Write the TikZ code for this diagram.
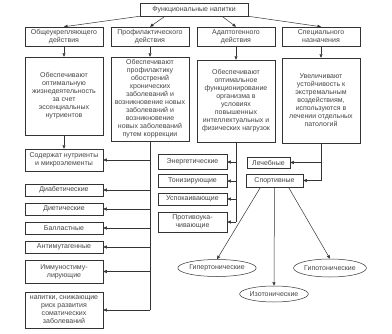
\documentclass[tikz,border=0pt]{standalone}
\usepackage{fontspec}
\setmainfont{Liberation Sans}
\usetikzlibrary{arrows.meta,shapes.geometric}
\definecolor{linegray}{HTML}{333333}
\definecolor{textgray}{HTML}{454545}
\tikzset{
  box/.style={draw=linegray, line width=0.5pt, align=center, fill=white, inner sep=0pt, text=textgray},
  wide/.style={box, minimum width=78pt},
  item/.style={box, minimum width=69pt},
  oval/.style={draw=linegray, line width=0.5pt, ellipse, inner sep=0pt, text=textgray},
  arrow/.style={-{Triangle[length=3.5pt, width=3pt]}, draw=linegray, line width=0.5pt},
  trunk/.style={draw=linegray, line width=0.5pt}
}

\begin{document}
\begin{tikzpicture}[x=1pt, y=-1pt, font=\fontsize{7}{8}\selectfont]
  \useasboundingbox[fill=white] (0,0) rectangle (392,333);

  \node[box, minimum width=108pt, minimum height=13pt] (drinks) at (194,9.5) {Функциональные напитки};

  \node[wide, minimum height=19pt] (general) at (64,36.5) {Общеукрепляющего\\действия};
  \node[wide, minimum height=19pt] (preventive) at (150,36.5) {Профилактического\\действия};
  \node[wide, minimum height=19pt] (adaptogen) at (236,36.5) {Адаптогенного\\действия};
  \node[wide, minimum height=19pt] (special) at (321,36.5) {Специального\\назначения};

  \node[wide, minimum height=78pt] (generaltext) at (64,96) {Обеспечивают\\оптимальную\\жизнедеятельность\\за счет\\эссенциальных\\нутриентов};
  \node[wide, minimum height=84pt] (preventtext) at (150,99) {Обеспечивают\\профилактику\\обострений\\хронических\\заболеваний и\\возникновение новых\\заболеваний и\\возникновение\\новых заболеваний\\путем коррекции};
  \node[wide, minimum height=82pt] (adapttext) at (236,101) {Обеспечивают\\оптимальное\\функционирование\\организма в\\условиях\\повышенных\\интеллектуальных и\\физических нагрузок};
  \node[wide, minimum height=85pt] (specialtext) at (321,100.5) {Увеличивают\\устойчивость к\\экстремальным\\воздействиям,\\используются в\\лечении отдельных\\патологий};

  \node[wide, minimum height=22pt] (nutrients) at (64,160) {Содержат нутриенты\\и микроэлементы};
  \node[wide, minimum height=12pt] (diabetic) at (64,190) {Диабетические};
  \node[wide, minimum height=12pt] (dietary) at (64,209) {Диетические};
  \node[wide, minimum height=12pt] (ballast) at (64,228) {Балластные};
  \node[wide, minimum height=12pt] (antimut) at (64,247) {Антимутагенные};
  \node[wide, minimum height=23pt] (immuno) at (64,271.5) {Иммуностиму-\\лирующие};
  \node[wide, minimum height=36pt] (riskless) at (64,310) {напитки, снижающие\\риск развития\\соматических\\заболеваний};

  \node[item, minimum height=15pt] (energy) at (192.5,162) {Энергетические};
  \node[item, minimum height=13pt] (tonic) at (192.5,181) {Тонизирующие};
  \node[item, minimum height=12pt] (calming) at (192.5,199) {Успокаивающие};
  \node[item, minimum height=20pt] (antimotion) at (192.5,222) {Противоука-\\чивающие};

  \node[box, minimum width=43pt, minimum height=11pt] (healing) at (268.5,162.5) {Лечебные};
  \node[box, minimum width=57pt, minimum height=13pt] (sport) at (274.5,180.5) {Спортивные};

  \node[oval, minimum width=71pt, minimum height=17pt] (hyper) at (217,268) {Гипертонические};
  \node[oval, minimum width=64pt, minimum height=16pt] (iso) at (274,294) {Изотонические};
  \node[oval, minimum width=70pt, minimum height=18pt] (hypo) at (330,268) {Гипотонические};

  \draw[arrow] (drinks.south west) -- (general.north);
  \draw[arrow] ([xshift=-29pt]drinks.south) -- (preventive.north);
  \draw[arrow] ([xshift=28pt]drinks.south) -- (adaptogen.north);
  \draw[arrow] (drinks.south east) -- (special.north);

  \draw[arrow] (general) -- (generaltext);
  \draw[arrow] (preventive) -- (preventtext);
  \draw[arrow] (adaptogen) -- (adapttext);
  \draw[arrow] (special) -- (specialtext);

  \draw[arrow] (generaltext) -- (nutrients);
  \draw[trunk] (preventtext.south) -- (preventtext.south |- riskless.east);
  \draw[arrow] (preventtext.south |- nutrients.east) -- (nutrients.east);
  \draw[arrow] (preventtext.south |- diabetic.east) -- (diabetic.east);
  \draw[arrow] (preventtext.south |- dietary.east) -- (dietary.east);
  \draw[arrow] (preventtext.south |- ballast.east) -- (ballast.east);
  \draw[arrow] (preventtext.south |- antimut.east) -- (antimut.east);
  \draw[arrow] (preventtext.south |- immuno.east) -- (immuno.east);
  \draw[arrow] (preventtext.south |- riskless.east) -- (riskless.east);

  \draw[trunk] (adapttext.south) -- (adapttext.south |- antimotion.east);
  \draw[arrow] (adapttext.south |- energy.east) -- (energy.east);
  \draw[arrow] (adapttext.south |- tonic.east) -- (tonic.east);
  \draw[arrow] (adapttext.south |- calming.east) -- (calming.east);
  \draw[arrow] (adapttext.south |- antimotion.east) -- (antimotion.east);

  \draw[trunk] (specialtext.south) -- (specialtext.south |- sport.east);
  \draw[arrow] (specialtext.south |- healing.east) -- (healing.east);
  \draw[arrow] (specialtext.south |- sport.east) -- (sport.east);

  \draw[arrow] ([xshift=-14pt]sport.south) -- (hyper.north);
  \draw[arrow] (sport.south) -- (iso.north);
  \draw[arrow] ([xshift=14pt]sport.south) -- (hypo.north);
\end{tikzpicture}
\end{document}
